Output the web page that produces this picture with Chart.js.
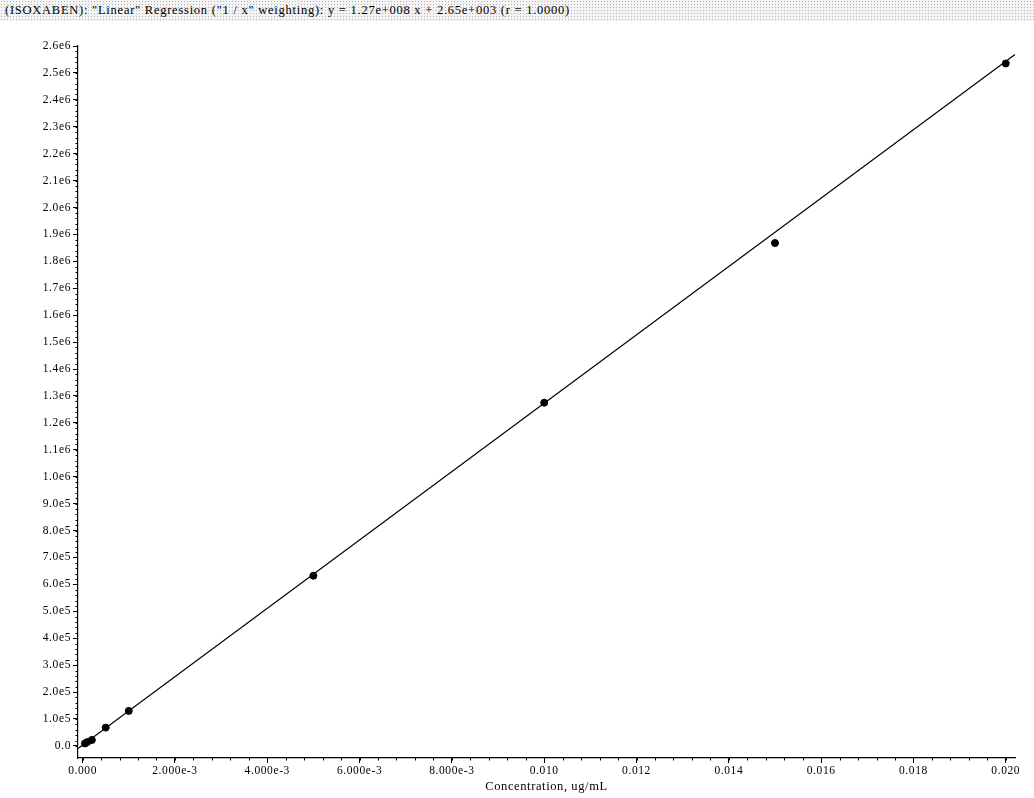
<!DOCTYPE html>
<html>
<head>
<meta charset="utf-8">
<title>ISOXABEN calibration</title>
<script src="https://cdn.jsdelivr.net/npm/chart.js@4.4.1/dist/chart.umd.min.js"></script>
<style>
  html, body { margin: 0; padding: 0; background: #fff; }
  #wrap { position: relative; width: 1034px; height: 798px; }
  #head {
    position: absolute; left: 0; top: 0; width: 1034px; height: 21px;
    background-color: #f4f4f4;
    background-image: radial-gradient(circle, #b5b5b5 0.7px, transparent 0.8px);
    background-size: 3px 3px;
    font-family: 'Liberation Serif', 'DejaVu Serif', serif;
    font-size: 12.5px; letter-spacing: 0.75px; line-height: 21px; color: #000;
    padding-left: 5px; box-sizing: border-box; white-space: pre;
  }
  canvas { position: absolute; left: 0; top: 0; }
</style>
</head>
<body>
<div id="wrap">
  <canvas id="c" width="1034" height="798"></canvas>
  <div id="head">(ISOXABEN): "Linear" Regression ("1 / x" weighting): y = 1.27e+008 x + 2.65e+003 (r = 1.0000)</div>
</div>
<script>
// Calibration standards (concentration, ug/mL) and measured responses
const concentrations = [0.00005, 0.0001, 0.0002, 0.0005, 0.001, 0.005, 0.010, 0.015, 0.020];
const responses = [9000, 14000, 22000, 68000, 130000, 632000, 1275000, 1868000, 2535000];

// Fitted line: y = slope * x + intercept
const slope = 1.27e8;
const intercept = 2.65e3;
const fitRange = [-0.0001, 0.0202];

// Axis ticks and their labels
const xTicks = [0, 0.002, 0.004, 0.006, 0.008, 0.010, 0.012, 0.014, 0.016, 0.018, 0.020];
const xTickLabels = ['0.000', '2.000e-3', '4.000e-3', '6.000e-3', '8.000e-3', '0.010',
                     '0.012', '0.014', '0.016', '0.018', '0.020'];
const yTicks = [0, 1e5, 2e5, 3e5, 4e5, 5e5, 6e5, 7e5, 8e5, 9e5, 1e6, 1.1e6, 1.2e6, 1.3e6,
                1.4e6, 1.5e6, 1.6e6, 1.7e6, 1.8e6, 1.9e6, 2e6, 2.1e6, 2.2e6, 2.3e6, 2.4e6,
                2.5e6, 2.6e6];
const yTickLabels = ['0.0', '1.0e5', '2.0e5', '3.0e5', '4.0e5', '5.0e5', '6.0e5', '7.0e5',
                     '8.0e5', '9.0e5', '1.0e6', '1.1e6', '1.2e6', '1.3e6', '1.4e6', '1.5e6',
                     '1.6e6', '1.7e6', '1.8e6', '1.9e6', '2.0e6', '2.1e6', '2.2e6', '2.3e6',
                     '2.4e6', '2.5e6', '2.6e6'];

const xAxisTitle = 'Concentration, ug/mL';

Chart.defaults.font.family = "'Liberation Serif', 'DejaVu Serif', serif";
Chart.defaults.font.size = 11.5;
Chart.defaults.color = '#000';

const standards = concentrations.map((x, i) => ({ x: x, y: responses[i] }));
const fitLine = fitRange.map(x => ({ x: x, y: slope * x + intercept }));

// Slightly spaced-out lettering for all canvas text
const spacedText = {
  id: 'spacedText',
  beforeLayout(chart) { chart.ctx.letterSpacing = '0.6px'; },
  beforeDraw(chart) { chart.ctx.letterSpacing = '0.6px'; }
};

// Small minor ticks along both axes
const minorTicks = {
  id: 'minorTicks',
  afterDraw(chart) {
    const ctx = chart.ctx;
    const xs = chart.scales.x, ys = chart.scales.y;
    ctx.save();
    ctx.strokeStyle = '#000';
    ctx.lineWidth = 1;
    ctx.beginPath();
    for (let v = 0; v <= 2.6e6 + 1; v += 2e4) {
      const py = Math.round(ys.getPixelForValue(v)) + 0.5;
      ctx.moveTo(xs.left - 2.5, py);
      ctx.lineTo(xs.left, py);
    }
    for (let v = 0; v <= 0.0202; v += 0.0004) {
      const px = Math.round(xs.getPixelForValue(v)) + 0.5;
      ctx.moveTo(px, ys.bottom);
      ctx.lineTo(px, ys.bottom + 2.5);
    }
    ctx.stroke();
    ctx.restore();
  }
};

new Chart(document.getElementById('c'), {
  type: 'scatter',
  data: {
    datasets: [
      {
        label: 'Fit',
        type: 'line',
        data: fitLine,
        borderColor: '#000',
        borderWidth: 1.2,
        pointRadius: 0,
        fill: false,
        tension: 0
      },
      {
        label: 'Standards',
        data: standards,
        backgroundColor: '#000',
        borderColor: '#000',
        pointRadius: 3.5,
        pointHoverRadius: 3.5
      }
    ]
  },
  options: {
    responsive: false,
    animation: false,
    events: [],
    layout: { padding: { top: 46, right: 19, left: 0, bottom: 4 } },
    plugins: {
      legend: { display: false },
      tooltip: { enabled: false },
      title: { display: false }
    },
    scales: {
      x: {
        type: 'linear',
        min: -0.0001,
        max: 0.0202,
        afterBuildTicks: s => { s.ticks = xTicks.map(v => ({ value: v })); },
        afterFit: s => { s.height = 36; },
        ticks: {
          autoSkip: false,
          maxRotation: 0,
          padding: 1,
          callback: (v, i) => xTickLabels[i]
        },
        grid: {
          display: true,
          drawOnChartArea: false,
          drawTicks: true,
          tickLength: 5,
          color: '#000'
        },
        border: { display: true, color: '#000', width: 1.2 },
        title: {
          display: true,
          text: xAxisTitle,
          padding: { top: 0, bottom: 0 },
          font: { size: 12.5 }
        }
      },
      y: {
        type: 'linear',
        min: -45000,
        max: 2.6e6,
        afterBuildTicks: s => { s.ticks = yTicks.map(v => ({ value: v })); },
        afterFit: s => { s.width = 78; },
        ticks: {
          autoSkip: false,
          padding: 2,
          callback: (v, i) => yTickLabels[i]
        },
        grid: {
          display: true,
          drawOnChartArea: false,
          drawTicks: true,
          tickLength: 5,
          color: '#000'
        },
        border: { display: true, color: '#000', width: 1.2 }
      }
    }
  },
  plugins: [spacedText, minorTicks]
});
</script>
</body>
</html>
